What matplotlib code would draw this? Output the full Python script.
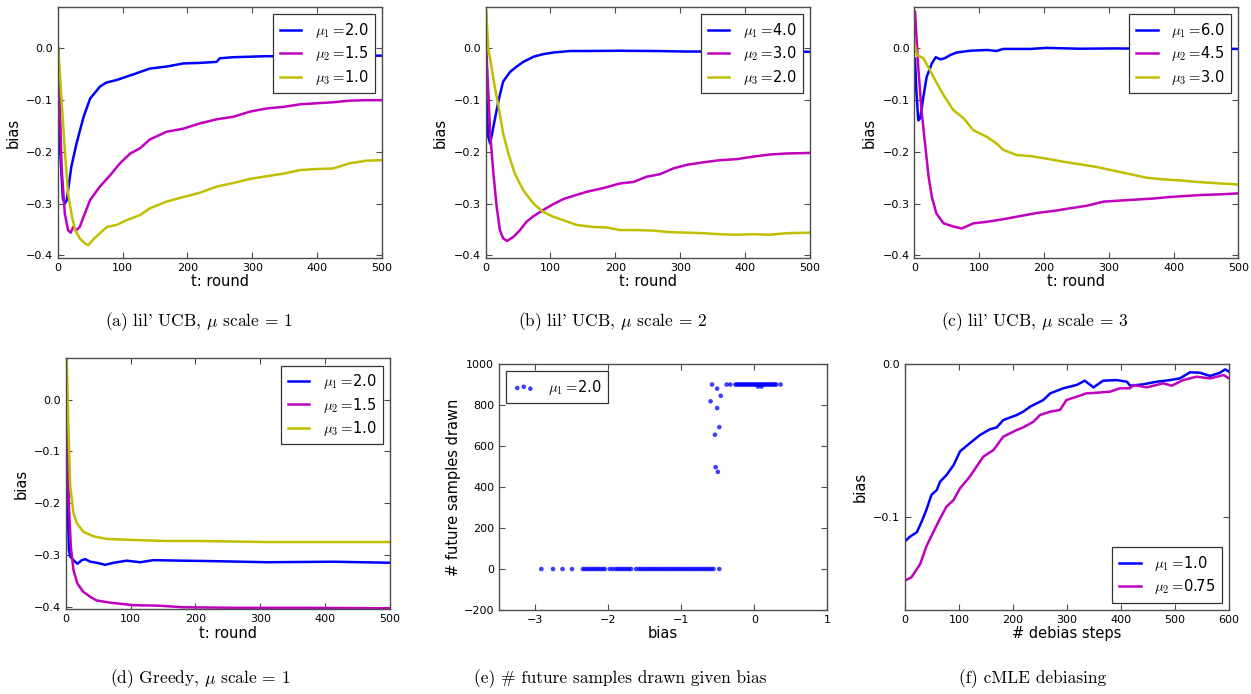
"""Bias of arm mean estimates under lil' UCB, greedy sampling and cMLE debiasing."""

import matplotlib
matplotlib.use("Agg")
import matplotlib.pyplot as plt

# ---- (a) lil' UCB, mu scale = 1 -------------------------------------------
a_t1 = [1, 4, 8, 11, 14, 21, 29, 40, 50, 65, 75, 91, 117, 142, 168, 194, 219, 245, 250, 271, 322, 400, 450, 500]
a_mu1 = [0.0, -0.20, -0.29, -0.30, -0.293, -0.229, -0.184, -0.132, -0.097, -0.074, -0.066, -0.061,
         -0.050, -0.039, -0.035, -0.029, -0.028, -0.026, -0.019, -0.017, -0.015, -0.015, -0.014, -0.014]
a_t2 = [1, 6, 11, 16, 20, 24, 29, 34, 40, 50, 65, 81, 96, 112, 127, 142, 168, 194, 219, 245, 271, 297,
        322, 348, 374, 399, 425, 450, 476, 500]
a_mu2 = [0.0, -0.229, -0.319, -0.351, -0.356, -0.345, -0.351, -0.345, -0.325, -0.293, -0.267, -0.245,
         -0.222, -0.203, -0.193, -0.176, -0.161, -0.155, -0.145, -0.137, -0.132, -0.122, -0.116, -0.113,
         -0.108, -0.106, -0.104, -0.101, -0.100, -0.100]
a_t3 = [1, 6, 11, 16, 22, 27, 34, 42, 47, 55, 65, 76, 91, 106, 127, 142, 168, 194, 219, 245, 271, 297,
        322, 348, 374, 399, 425, 450, 476, 500]
a_mu3 = [0.0, -0.10, -0.196, -0.28, -0.325, -0.351, -0.367, -0.377, -0.380, -0.369, -0.357, -0.345,
         -0.341, -0.332, -0.322, -0.309, -0.296, -0.287, -0.279, -0.267, -0.260, -0.252, -0.247, -0.242,
         -0.235, -0.233, -0.232, -0.222, -0.217, -0.216]

# ---- (b) lil' UCB, mu scale = 2 -------------------------------------------
b_t1 = [1, 4, 7, 12, 20, 27, 38, 48, 58, 74, 89, 104, 130, 156, 207, 259, 310, 400, 500]
b_mu1 = [-0.09, -0.17, -0.184, -0.151, -0.10, -0.064, -0.045, -0.035, -0.026, -0.016, -0.011, -0.008,
         -0.005, -0.005, -0.0045, -0.005, -0.006, -0.006, -0.0065]
b_t2 = [1, 7, 12, 17, 22, 27, 33, 43, 53, 63, 74, 89, 104, 120, 140, 156, 181, 207, 228, 248, 269, 289,
        310, 336, 361, 387, 413, 438, 464, 500]
b_mu2 = [0.0, -0.164, -0.242, -0.306, -0.351, -0.367, -0.372, -0.364, -0.351, -0.335, -0.324, -0.312,
         -0.301, -0.291, -0.283, -0.277, -0.270, -0.261, -0.258, -0.248, -0.243, -0.232, -0.225, -0.220,
         -0.216, -0.214, -0.209, -0.205, -0.203, -0.202]
b_t3 = [1, 4, 9, 14, 20, 27, 35, 45, 58, 74, 89, 104, 120, 140, 166, 187, 207, 233, 259, 284, 310, 336,
        361, 387, 413, 438, 464, 500]
b_mu3 = [0.071, 0.0, -0.035, -0.074, -0.113, -0.164, -0.203, -0.242, -0.274, -0.300, -0.316, -0.325,
         -0.332, -0.341, -0.345, -0.346, -0.351, -0.351, -0.352, -0.355, -0.356, -0.357, -0.359, -0.360,
         -0.359, -0.360, -0.357, -0.356]

# ---- (c) lil' UCB, mu scale = 3 -------------------------------------------
c_t1 = [1, 3, 6, 9, 14, 19, 27, 33, 40, 47, 55, 65, 86, 112, 127, 137, 179, 204, 256, 307, 400, 500]
c_mu1 = [-0.02, -0.08, -0.139, -0.135, -0.093, -0.055, -0.029, -0.017, -0.021, -0.019, -0.013, -0.008,
         -0.0045, -0.003, -0.005, -0.001, -0.001, 0.001, -0.0006, 0.0, -0.001, -0.001]
c_t2 = [1, 6, 11, 17, 22, 27, 34, 45, 60, 73, 91, 112, 137, 163, 189, 215, 240, 266, 292, 317, 343, 369,
        395, 420, 446, 472, 500]
c_mu2 = [0.071, -0.036, -0.119, -0.19, -0.248, -0.287, -0.319, -0.338, -0.344, -0.348, -0.338, -0.335,
         -0.330, -0.324, -0.318, -0.314, -0.309, -0.304, -0.296, -0.294, -0.292, -0.290, -0.287, -0.285,
         -0.283, -0.282, -0.280]
c_t3 = [1, 4, 14, 24, 35, 45, 60, 76, 91, 112, 127, 137, 158, 179, 204, 230, 256, 281, 307, 333, 359,
        384, 410, 436, 461, 500]
c_mu3 = [0.006, -0.013, -0.019, -0.042, -0.068, -0.090, -0.119, -0.135, -0.158, -0.171, -0.184, -0.196,
         -0.206, -0.208, -0.213, -0.219, -0.224, -0.229, -0.236, -0.243, -0.250, -0.253, -0.255, -0.258,
         -0.260, -0.263]

# ---- (d) greedy, mu scale = 1 ---------------------------------------------
d_t1 = [1, 3, 5, 7, 12, 18, 25, 30, 38, 48, 61, 74, 94, 115, 135, 181, 233, 310, 413, 500]
d_mu1 = [-0.05, -0.20, -0.29, -0.303, -0.310, -0.317, -0.310, -0.308, -0.313, -0.315, -0.319, -0.315,
         -0.311, -0.314, -0.310, -0.311, -0.312, -0.314, -0.313, -0.315]
d_t2 = [1, 3, 5, 8, 12, 18, 27, 38, 48, 68, 104, 145, 181, 259, 361, 500]
d_mu2 = [0.052, -0.077, -0.206, -0.284, -0.329, -0.355, -0.371, -0.381, -0.388, -0.392, -0.397, -0.398,
         -0.401, -0.402, -0.402, -0.403]
d_t3 = [1, 4, 7, 12, 17, 27, 43, 63, 104, 156, 207, 310, 500]
d_mu3 = [0.12, -0.045, -0.167, -0.219, -0.238, -0.255, -0.264, -0.269, -0.271, -0.273, -0.273, -0.275, -0.275]

# ---- (e) future samples drawn vs bias -------------------------------------
e_bias_zero = [-2.92, -2.76, -2.63, -2.50, -2.35, -2.32, -2.29, -2.26, -2.23, -2.20, -2.17, -2.14, -2.11,
               -2.08, -2.05, -1.98, -1.94, -1.90, -1.87, -1.84, -1.81, -1.78, -1.75, -1.72, -1.69, -1.62,
               -1.58, -1.55, -1.52, -1.49, -1.46, -1.43, -1.40, -1.37, -1.34, -1.31, -1.28, -1.25, -1.22,
               -1.19, -1.16, -1.13, -1.10, -1.07, -1.04, -1.01, -0.98, -0.95, -0.92, -0.89, -0.86, -0.83,
               -0.80, -0.77, -0.74, -0.71, -0.68, -0.65, -0.62, -0.59, -0.56, -0.48]
e_bias_mid = [-0.58, -0.51, -0.46, -0.60, -0.51, -0.48, -0.54, -0.53, -0.50]
e_count_mid = [900, 880, 845, 818, 785, 692, 655, 497, 474]
e_bias_top = [-0.38, -0.33, -0.26, -0.24, -0.22, -0.20, -0.18, -0.16, -0.14, -0.12, -0.10, -0.08, -0.06,
              -0.04, -0.02, 0.00, 0.02, 0.04, 0.06, 0.08, 0.10, 0.12, 0.14, 0.16, 0.18, 0.20, 0.22, 0.24,
              0.26, 0.28, 0.30, 0.36, 0.05, 0.10]
e_count_top = [900] * 32 + [890, 890]

# ---- (f) cMLE debiasing ---------------------------------------------------
f_s1 = [0, 9, 22, 31, 40, 49, 59, 65, 77, 90, 102, 120, 139, 157, 170, 182, 207, 219, 232, 256, 269, 293,
        318, 333, 349, 367, 392, 411, 417, 441, 466, 491, 509, 528, 546, 565, 583, 593, 600]
f_mu1 = [-0.116, -0.113, -0.110, -0.103, -0.095, -0.0856, -0.0823, -0.0769, -0.0725, -0.066, -0.057,
         -0.0517, -0.0463, -0.0426, -0.0413, -0.0365, -0.0332, -0.031, -0.0277, -0.0234, -0.019, -0.0157,
         -0.0135, -0.0107, -0.0151, -0.0107, -0.0103, -0.0114, -0.014, -0.0131, -0.0114, -0.0103, -0.0092,
         -0.0052, -0.0055, -0.0076, -0.0055, -0.0033, -0.0048]
f_s2 = [0, 12, 28, 40, 53, 65, 77, 90, 102, 120, 145, 164, 182, 207, 219, 238, 250, 269, 287, 299, 318,
        336, 355, 380, 398, 417, 423, 448, 478, 494, 515, 540, 565, 590, 600]
f_mu2 = [-0.1417, -0.1395, -0.131, -0.119, -0.1096, -0.101, -0.0932, -0.0889, -0.0812, -0.0736, -0.0605,
         -0.0561, -0.0474, -0.043, -0.0413, -0.0376, -0.0332, -0.031, -0.0299, -0.0234, -0.0212, -0.019,
         -0.0186, -0.0179, -0.0157, -0.0157, -0.0135, -0.0151, -0.0124, -0.014, -0.0103, -0.0081, -0.0092,
         -0.007, -0.0092]

captions = [
    r"(a) lil' UCB, $\mu$ scale = 1",
    r"(b) lil' UCB, $\mu$ scale = 2",
    r"(c) lil' UCB, $\mu$ scale = 3",
    r"(d) Greedy, $\mu$ scale = 1",
    r"(e) # future samples drawn given bias",
    r"(f) cMLE debiasing",
]

plt.rcParams.update({
    "font.family": "DejaVu Sans",
    "mathtext.fontset": "cm",
    "xtick.direction": "in",
    "ytick.direction": "in",
    "xtick.top": True,
    "ytick.right": True,
    "xtick.major.size": 4,
    "ytick.major.size": 4,
    "xtick.labelsize": 8,
    "ytick.labelsize": 8,
    "axes.labelsize": 10.5,
    "axes.edgecolor": "0.3",
    "axes.linewidth": 1.0,
    "xtick.color": "0.3",
    "ytick.color": "0.3",
    "xtick.labelcolor": "black",
    "ytick.labelcolor": "black",
    "legend.fontsize": 10.5,
    "legend.fancybox": False,
    "legend.framealpha": 1.0,
    "legend.edgecolor": "0.2",
})

BLUE, MAGENTA, YELLOW = (0, 0, 1), (0.75, 0, 0.75), (0.75, 0.75, 0)

fig = plt.figure(figsize=(12.51, 6.94), dpi=100)

positions = [
    [0.0461, 0.6282, 0.2592, 0.3617],
    [0.3882, 0.6282, 0.2592, 0.3617],
    [0.7309, 0.6282, 0.2590, 0.3617],
    [0.0525, 0.1220, 0.2592, 0.3617],
    [0.3989, 0.1210, 0.2624, 0.3545],
    [0.7234, 0.1210, 0.2590, 0.3540],
]
axes = [fig.add_axes(p) for p in positions]


def mu_label(idx, value):
    # "mu_i =value" with no gap after the equals sign
    return rf"$\mu_{idx} =\!$" + value


def legend(ax, **kw):
    leg = ax.legend(handlelength=1.5, handletextpad=0.9, borderpad=0.45, labelspacing=0.3,
                    borderaxespad=0.5, **kw)
    leg.get_frame().set_linewidth(0.9)
    return leg


def bias_panel(ax, series, mus):
    for (t, v), color, mu, idx in zip(series, (BLUE, MAGENTA, YELLOW), mus, (1, 2, 3)):
        ax.plot(t, v, color=color, lw=1.8, label=mu_label(idx, mu))
    ax.set_xlim(0, 500)
    ax.set_ylim(-0.405, 0.08)
    ax.set_yticks([-0.4, -0.3, -0.2, -0.1, 0.0])
    ax.set_xticks([0, 100, 200, 300, 400, 500])
    ax.set_xlabel("t: round", labelpad=1)
    ax.set_ylabel("bias", labelpad=4)
    legend(ax, loc="upper right")


bias_panel(axes[0], [(a_t1, a_mu1), (a_t2, a_mu2), (a_t3, a_mu3)], ["2.0", "1.5", "1.0"])
bias_panel(axes[1], [(b_t1, b_mu1), (b_t2, b_mu2), (b_t3, b_mu3)], ["4.0", "3.0", "2.0"])
bias_panel(axes[2], [(c_t1, c_mu1), (c_t2, c_mu2), (c_t3, c_mu3)], ["6.0", "4.5", "3.0"])
bias_panel(axes[3], [(d_t1, d_mu1), (d_t2, d_mu2), (d_t3, d_mu3)], ["2.0", "1.5", "1.0"])

ax = axes[4]
e_bias = e_bias_zero + e_bias_mid + e_bias_top
e_count = [0] * len(e_bias_zero) + e_count_mid + e_count_top
ax.scatter(e_bias, e_count, s=11, color=BLUE, alpha=0.75, edgecolors="none", label=mu_label(1, "2.0"))
ax.set_xlim(-3.5, 1)
ax.set_ylim(-200, 1000)
ax.set_xticks([-3, -2, -1, 0, 1])
ax.set_yticks([-200, 0, 200, 400, 600, 800, 1000])
ax.set_xlabel("bias", labelpad=1)
ax.set_ylabel("# future samples drawn", labelpad=2)
legend(ax, loc="upper left", scatterpoints=3)

ax = axes[5]
ax.plot(f_s1, f_mu1, color=BLUE, lw=1.8, label=mu_label(1, "1.0"))
ax.plot(f_s2, f_mu2, color=MAGENTA, lw=1.8, label=mu_label(2, "0.75"))
ax.set_xlim(0, 600)
ax.set_ylim(-0.161, 0.0)
ax.set_yticks([-0.1, 0.0])
ax.set_xticks([0, 100, 200, 300, 400, 500, 600])
ax.set_xlabel("# debias steps", labelpad=1)
ax.set_ylabel("bias", labelpad=4)
legend(ax, loc="lower right")

cap_x = [199, 613, 1035, 200, 620, 1033]
cap_y = [322, 322, 322, 679, 679, 679]
for text, x, y in zip(captions, cap_x, cap_y):
    fig.text(x / 1251, 1 - y / 694, text, ha="center", va="center", fontsize=12.5, family="cmr10")

fig.savefig("out.png", dpi=100)
